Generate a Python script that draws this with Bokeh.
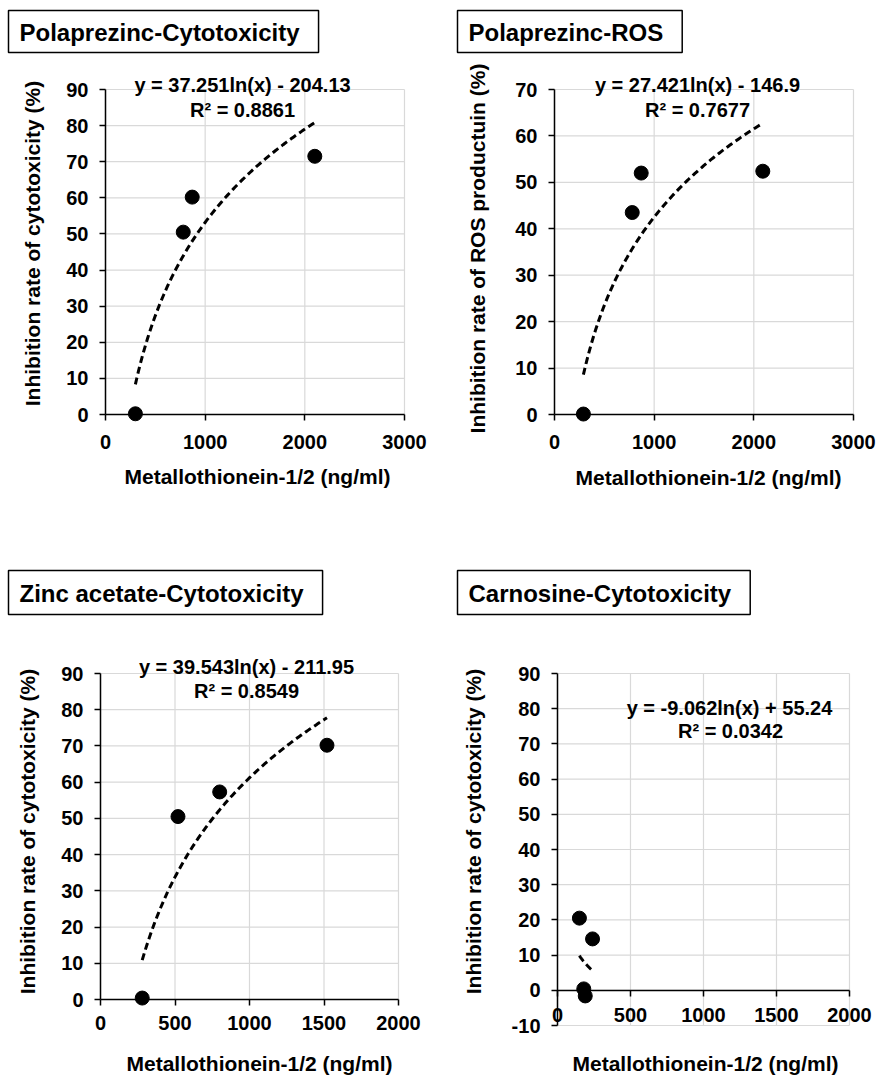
import numpy as np
from bokeh.plotting import figure
from bokeh.models import Label, FixedTicker, Range1d, PrintfTickFormatter
from bokeh.layouts import row, column
from bokeh.embed import file_html
from bokeh.resources import INLINE

FONT = "Liberation Sans"

# ---------------- data ----------------
titles = ["Polaprezinc-Cytotoxicity", "Polaprezinc-ROS",
          "Zinc acetate-Cytotoxicity", "Carnosine-Cytotoxicity"]
x_title = "Metallothionein-1/2 (ng/ml)"
y_titles = ["Inhibition rate of cytotoxicity (%)", "Inhibition rate of ROS productuin (%)",
            "Inhibition rate of cytotoxicity (%)", "Inhibition rate of cytotoxicity (%)"]

polaprezinc_mt = [300, 780, 870, 2100]
polaprezinc_cyto = [0.2, 50.5, 60.2, 71.5]
polaprezinc_ros_mt = [290, 780, 870, 2090]
polaprezinc_ros = [0.1, 43.5, 52.0, 52.4]
zinc_acetate_mt = [280, 520, 800, 1520]
zinc_acetate_cyto = [0.4, 50.5, 57.3, 70.2]
carnosine_mt = [150, 240, 180, 190]
carnosine_cyto = [20.5, 14.6, 0.4, -1.6]

fit_a = [37.251, 27.421, 39.543, -9.062]
fit_b = [-204.13, -146.9, -211.95, 55.24]
eq_texts = ["y = 37.251ln(x) - 204.13", "y = 27.421ln(x) - 146.9",
            "y = 39.543ln(x) - 211.95", "y = -9.062ln(x) + 55.24"]
r2_texts = ["R\u00b2 = 0.8861", "R\u00b2 = 0.7677", "R\u00b2 = 0.8549", "R\u00b2 = 0.0342"]

x_ticks = [[0, 1000, 2000, 3000], [0, 1000, 2000, 3000],
           [0, 500, 1000, 1500, 2000], [0, 500, 1000, 1500, 2000]]
y_ticks = [list(range(0, 91, 10)), list(range(0, 71, 10)),
           list(range(0, 91, 10)), list(range(-10, 91, 10))]
x_lims = [(0, 3000), (0, 3000), (0, 2000), (0, 2000)]
y_lims = [(0, 90), (0, 70), (0, 90), (-10, 90)]

series = [(polaprezinc_mt, polaprezinc_cyto), (polaprezinc_ros_mt, polaprezinc_ros),
          (zinc_acetate_mt, zinc_acetate_cyto), (carnosine_mt, carnosine_cyto)]

# ---------------- layout geometry (page pixels) ----------------
geo = [
    dict(ox=0, oy=0, w=440, h=548, L=105, R=404, T=89, B=414),
    dict(ox=440, oy=0, w=436, h=548, L=554, R=853, T=89, B=414),
    dict(ox=0, oy=548, w=440, h=529, L=100, R=398, T=673, B=999),
    dict(ox=440, oy=548, w=436, h=529, L=557, R=849, T=673, B=1025),
]
# title box: (left edge, vertical centre)
title_pos = [(8, 31), (457, 31), (8, 592), (457, 592)]
title_pad = [dict(left=11, right=19, top=8, bottom=7), dict(left=11, right=19, top=8, bottom=7),
             dict(left=11, right=19, top=9, bottom=8), dict(left=11, right=19, top=9, bottom=8)]
eq_pos = [((242, 84), (242, 109)), ((697, 84), (697, 109)),
          ((246, 666), (246, 690)), ((729, 707), (730, 730))]
ytitle_pos = [(31.5, 243), (476.5, 248), (27, 831), (473, 831)]
xtitle_pos = [(257, 476), (708, 476.5), (259, 1063), (705, 1063)]
xtick_standoff = [14, 14, 10, 12]


figs = []
for i, g in enumerate(geo):
    xr, yr = x_lims[i], y_lims[i]
    sx = (xr[1] - xr[0]) / (g["R"] - g["L"])
    sy = (yr[1] - yr[0]) / (g["B"] - g["T"])

    def to_data(px, py):
        return xr[0] + (px - g["L"]) * sx, yr[0] + (g["B"] - py) * sy

    x0, y1 = to_data(g["ox"], g["oy"])
    x1, y0 = to_data(g["ox"] + g["w"], g["oy"] + g["h"])

    p = figure(width=g["w"], height=g["h"], output_backend="svg", toolbar_location=None,
               x_range=Range1d(x0, x1), y_range=Range1d(y0, y1), title=None,
               min_border_left=0, min_border_right=0, min_border_top=0, min_border_bottom=0)
    p.outline_line_color = None
    p.background_fill_color = "white"
    p.border_fill_color = "white"
    p.xgrid.visible = False
    p.ygrid.visible = False

    # gridlines limited to the plot area
    xt, yt = x_ticks[i], y_ticks[i]
    p.segment(x0=xt, y0=[yr[0]] * len(xt), x1=xt, y1=[yr[1]] * len(xt),
              line_color="#d9d9d9", line_width=1.2)
    p.segment(x0=[xr[0]] * len(yt), y0=yt, x1=[xr[1]] * len(yt), y1=yt,
              line_color="#d9d9d9", line_width=1.2)

    for ax in (p.xaxis, p.yaxis):
        ax.axis_line_color = "black"
        ax.axis_line_width = 1.5
        ax.major_tick_line_color = "black"
        ax.major_tick_line_width = 1.5
        ax.major_tick_out = 6
        ax.major_tick_in = 0
        ax.minor_tick_line_color = None
        ax.major_label_text_font = FONT
        ax.major_label_text_font_style = "bold"
        ax.major_label_text_font_size = "20px"
        ax.major_label_text_color = "black"
        ax.formatter = PrintfTickFormatter(format="%d")

    p.xaxis.ticker = FixedTicker(ticks=xt)
    p.yaxis.ticker = FixedTicker(ticks=yt)
    p.xaxis.fixed_location = 0
    p.yaxis.fixed_location = xr[0]
    p.xaxis.bounds = xr
    p.yaxis.bounds = yr
    p.yaxis.major_label_standoff = 11
    p.xaxis.major_label_standoff = xtick_standoff[i]

    xs, ys = series[i]
    fx = np.linspace(min(xs), max(xs), 120)
    fy = fit_a[i] * np.log(fx) + fit_b[i]
    p.line(fx, fy, line_color="black", line_width=3, line_dash="7 4")
    p.scatter(xs, ys, size=14, fill_color="black", line_color="black")

    tx, ty = to_data(*title_pos[i])
    p.add_layout(Label(x=tx, y=ty, text=titles[i], text_font=FONT, text_font_style="bold",
                       text_font_size="24px", text_color="black", text_align="left",
                       text_baseline="middle", border_line_color="black",
                       border_line_width=1.5, background_fill_color="white",
                       padding=title_pad[i]))
    for txt, (ex, ey) in zip((eq_texts[i], r2_texts[i]), eq_pos[i]):
        dx, dy = to_data(ex, ey)
        p.add_layout(Label(x=dx, y=dy, text=txt, text_font=FONT, text_font_style="bold",
                           text_font_size="20px", text_color="black", text_align="center",
                           text_baseline="middle"))
    ax_, ay_ = to_data(*ytitle_pos[i])
    p.add_layout(Label(x=ax_, y=ay_, text=y_titles[i], angle=np.pi / 2, text_font=FONT,
                       text_font_style="bold", text_font_size="21px", text_color="black",
                       text_align="center", text_baseline="middle"))
    bx, by = to_data(*xtitle_pos[i])
    p.add_layout(Label(x=bx, y=by, text=x_title, text_font=FONT,
                       text_font_style="bold", text_font_size="21px", text_color="black",
                       text_align="center", text_baseline="middle"))
    figs.append(p)

layout = column(row(figs[0], figs[1], spacing=0), row(figs[2], figs[3], spacing=0), spacing=0)
open("out.html", "w").write(file_html(layout, INLINE))
